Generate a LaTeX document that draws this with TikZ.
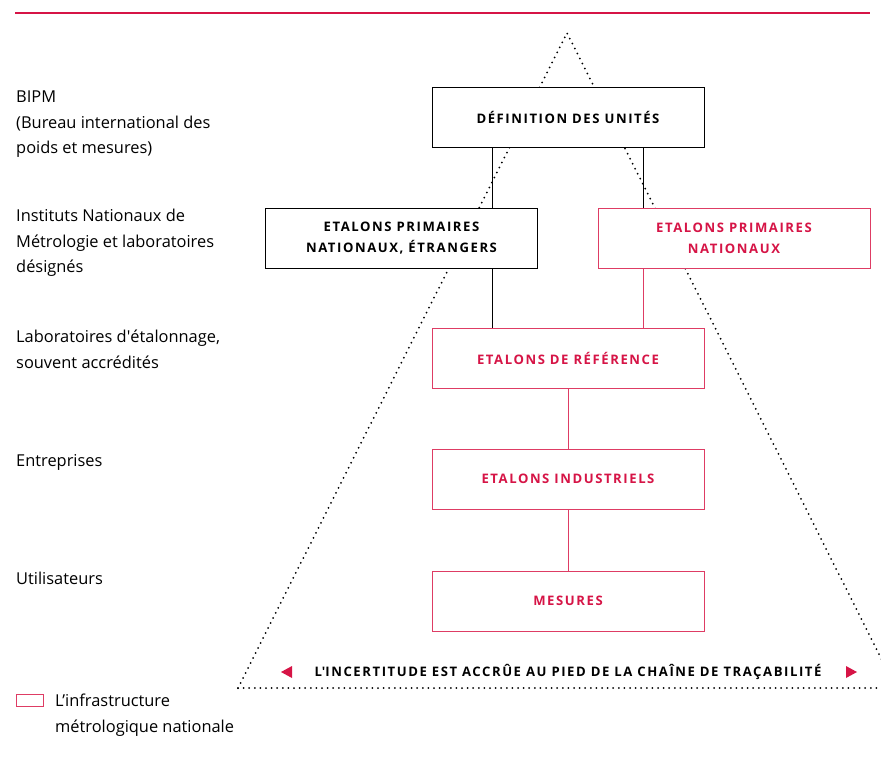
\documentclass[tikz,border=0pt]{standalone}
\usepackage{fontspec}
\setmainfont{Open Sans}
\newfontfamily\capsfont[LetterSpace=12]{Open Sans}
\definecolor{crim}{RGB}{214,20,70}
\definecolor{crimbox}{RGB}{222,60,100}
\begin{document}
\begin{tikzpicture}[x=1pt,y=-1pt,
  lab/.style={anchor=north west,inner sep=0pt,align=left,font=\fontsize{16.4}{25.5}\selectfont},
  blackbox/.style={draw=black,line width=0.9pt,fill=white,minimum width=272pt,minimum height=60pt,inner sep=0pt,align=center,font=\capsfont\bfseries\fontsize{13.1}{21}\selectfont},
  redbox/.style={blackbox,draw=crimbox,text=crim},
  blink/.style={draw=black,line width=0.9pt},
  rlink/.style={draw=crimbox,line width=0.9pt},
  dotline/.style={line width=2pt,dash pattern=on 0pt off 5.6pt,line cap=round}
]
\useasboundingbox (0,0) rectangle (881,757);
% top rule
\draw[crim,line width=2.6pt] (15,13) -- (870,13);
% dotted triangle
\coordinate (apex) at (567,33);
\coordinate (bl) at (238,688);
\coordinate (br) at (896,688);
\begin{scope}
\clip (0,0) rectangle (881,757);
\draw[dotline] (bl) -- (apex) -- (br);
\draw[dotline] (bl) -- (881,688);
\end{scope}
% boxes
\node[blackbox] (def) at (568,117) {DÉFINITION DES UNITÉS};
\node[blackbox] (epe) at (401.5,238) {ETALONS PRIMAIRES\\NATIONAUX, ÉTRANGERS};
\node[redbox] (epn) at (734,238) {ETALONS PRIMAIRES\\NATIONAUX};
\node[redbox] (ref) at (568,358) {ETALONS DE RÉFÉRENCE};
\node[redbox] (ind) at (568,479) {ETALONS INDUSTRIELS};
\node[redbox] (mes) at (568,601) {MESURES};
% connectors
\draw[blink] (def.south -| 492,0) -- (epe.north -| 492,0);
\draw[blink] (epe.south -| 492,0) -- (ref.north -| 492,0);
\draw[blink] (def.south -| 643,0) -- (epn.north -| 643,0);
\draw[rlink] (epn.south -| 643,0) -- (ref.north -| 643,0);
\draw[rlink] (ref.south) -- (ind.north);
\draw[rlink] (ind.south) -- (mes.north);
% left labels
\node[lab] (l1) at (16,91) {BIPM\\(Bureau international des\\poids et mesures)};
\node[lab] (l2) at (16,209) {Instituts Nationaux de\\Métrologie et laboratoires\\désignés};
\node[lab] (l3) at (16,330) {Laboratoires d\textquotesingle étalonnage,\\souvent accrédités};
\node[lab] (l4) at (16,454) {Entreprises};
\node[lab] (l5) at (16,572) {Utilisateurs};
% bottom text
\node[inner sep=0pt,font=\capsfont\bfseries\fontsize{13.1}{14}\selectfont] (unc) at (568,672) {L\textquotesingle INCERTITUDE EST ACCRÛE AU PIED DE LA CHAÎNE DE TRAÇABILITÉ};
\fill[crim] (281,672) -- (292,666) -- (292,678) -- cycle;
\fill[crim] (857,672) -- (846,666) -- (846,678) -- cycle;
% legend
\node[draw=crimbox,line width=0.9pt,minimum width=27pt,minimum height=12pt,inner sep=0pt] (leg) at (30,700) {};
\node[lab] (legt) at (55,694) {L’infrastructure\\métrologique nationale};
\end{tikzpicture}
\end{document}
